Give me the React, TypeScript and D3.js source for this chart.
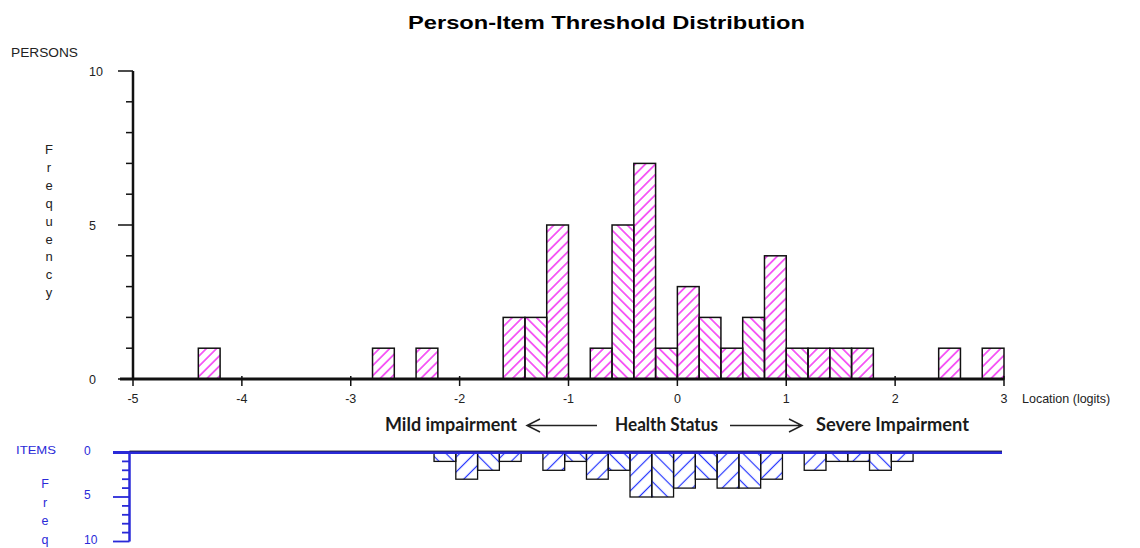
import { useEffect, useRef } from "react";
import * as d3 from "d3";

// Person locations (lower edge of each 0.2-logit bin) and counts
const personLogit = [-4.4, -2.8, -2.4, -1.6, -1.4, -1.2, -0.8, -0.6, -0.4, -0.2, 0, 0.2, 0.4, 0.6, 0.8, 1.0, 1.2, 1.4, 1.6, 2.4, 2.8];
const personCount = [1, 1, 1, 2, 2, 5, 1, 5, 7, 1, 3, 2, 1, 2, 4, 1, 1, 1, 1, 1, 1];

// Item thresholds (lower edge of each bin) and counts
const itemLogit = [-2.235, -2.035, -1.835, -1.635, -1.235, -1.035, -0.835, -0.635, -0.435, -0.235, -0.035, 0.165, 0.365, 0.565, 0.765, 1.165, 1.365, 1.565, 1.765, 1.965];
const itemCount = [1, 3, 2, 1, 2, 1, 3, 2, 5, 5, 4, 3, 4, 4, 3, 2, 1, 1, 2, 1];

const xTicks = [-5, -4, -3, -2, -1, 0, 1, 2, 3];
const personTickLabels = [0, 5, 10];
const itemTickLabels = [0, 5, 10];
const binWidth = 0.2;

const BLUE = "#2a2ad8";
const SANS = "'Liberation Sans', Arial, sans-serif";

export default function App() {
    const svgRef = useRef<SVGSVGElement>(null);

    useEffect(() => {
        if (!svgRef.current) return;
        const svg = d3.select(svgRef.current);
        svg.selectAll("*").remove();

        const x = d3.scaleLinear().domain([-5, 3]).range([133, 1004]);
        const yP = d3.scaleLinear().domain([0, 10]).range([379, 71]);
        const yI = d3.scaleLinear().domain([0, 10]).range([452.5, 541.5]);

        // Hatch patterns: rotated tiles with one line each
        const defs = svg.append("defs");
        const hatch = (id: string, color: string, s: number, angle: number, w: number) => {
            const p = defs.append("pattern")
                .attr("id", id)
                .attr("patternUnits", "userSpaceOnUse")
                .attr("width", s).attr("height", s)
                .attr("patternTransform", `rotate(${angle})`);
            p.append("line")
                .attr("x1", s / 2).attr("x2", s / 2).attr("y1", 0).attr("y2", s)
                .attr("stroke", color).attr("stroke-width", w);
        };
        hatch("pFwd", "#f000f0", 7.2, 45, 1.2);
        hatch("pBack", "#f000f0", 7.2, -45, 1.2);
        hatch("iFwd", "#2233ff", 10.5, 45, 1.2);
        hatch("iBack", "#2233ff", 10.5, -45, 1.2);

        // Title
        svg.append("text")
            .attr("x", 408).attr("y", 29)
            .attr("font-family", SANS).attr("font-weight", "bold").attr("font-size", 19)
            .attr("textLength", 397).attr("lengthAdjust", "spacingAndGlyphs")
            .text("Person-Item Threshold Distribution");

        // ---- Persons histogram ----
        const persons = personLogit.map((v, i) => ({ v, n: personCount[i] }));
        svg.append("g").selectAll("rect")
            .data(persons)
            .join("rect")
            .attr("x", d => x(d.v))
            .attr("y", d => yP(d.n))
            .attr("width", d => x(d.v + binWidth) - x(d.v))
            .attr("height", d => yP(0) - yP(d.n))
            .attr("fill", d => Math.round((d.v + 5) / binWidth) % 2 === 1 ? "url(#pFwd)" : "url(#pBack)")
            .attr("stroke", "#111")
            .attr("stroke-width", 1.5);

        const axisP = svg.append("g").attr("stroke", "#111");
        axisP.append("line").attr("x1", 133).attr("x2", 133).attr("y1", yP(10)).attr("y2", yP(0)).attr("stroke-width", 2.5);
        d3.range(0, 11).forEach(t => {
            axisP.append("line")
                .attr("x1", t % 5 === 0 ? 118 : 126).attr("x2", 133)
                .attr("y1", yP(t)).attr("y2", yP(t))
                .attr("stroke-width", 1.5);
        });
        axisP.append("line").attr("x1", 120).attr("x2", x(3)).attr("y1", yP(0)).attr("y2", yP(0)).attr("stroke-width", 3);
        xTicks.forEach(t => {
            axisP.append("line").attr("x1", x(t)).attr("x2", x(t)).attr("y1", yP(0) - 3).attr("y2", yP(0) + 7).attr("stroke-width", 1.5);
        });

        svg.append("g").selectAll("text")
            .data(xTicks)
            .join("text")
            .attr("x", d => x(d)).attr("y", 403)
            .attr("text-anchor", "middle")
            .attr("font-family", SANS).attr("font-size", 12.5).attr("fill", "#222")
            .text(d => d);
        svg.append("text").attr("x", 1022).attr("y", 403)
            .attr("font-family", SANS).attr("font-size", 12.5).attr("fill", "#222")
            .text("Location (logits)");

        svg.append("g").selectAll("text")
            .data(personTickLabels)
            .join("text")
            .attr("x", 89).attr("y", d => yP(d) + 4.5)
            .attr("font-family", SANS).attr("font-size", 12.5).attr("fill", "#222")
            .text(d => d);
        svg.append("text").attr("x", 11).attr("y", 57)
            .attr("font-family", SANS).attr("font-size", 12.5).attr("fill", "#222")
            .attr("textLength", 67).attr("lengthAdjust", "spacingAndGlyphs")
            .text("PERSONS");
        "Frequency".split("").forEach((c, i) => {
            svg.append("text").attr("x", 49).attr("y", 154 + i * 17.9)
                .attr("text-anchor", "middle")
                .attr("font-family", SANS).attr("font-size", 13).attr("fill", "#222")
                .text(c);
        });

        // ---- Direction labels ----
        const lab = (t: string, x0: number, len: number) =>
            svg.append("text").attr("x", x0).attr("y", 431)
                .attr("font-family", "Lato, 'Open Sans', sans-serif").attr("font-weight", 700)
                .attr("font-size", 18).attr("fill", "#1a1a1a")
                .attr("textLength", len).attr("lengthAdjust", "spacingAndGlyphs")
                .text(t);
        lab("Mild impairment", 385, 132);
        lab("Health Status", 615, 103);
        lab("Severe Impairment", 816, 153);
        const arrows = svg.append("g").attr("stroke", "#222").attr("stroke-width", 1.5).attr("fill", "none");
        arrows.append("path").attr("d", "M527,425.5 L597,425.5 M540,419 L527,425.5 L540,432");
        arrows.append("path").attr("d", "M730,425.5 L802,425.5 M789,419 L802,425.5 L789,432");

        // ---- Items histogram ----
        const items = itemLogit.map((v, i) => ({ v, n: itemCount[i] }));
        svg.append("g").selectAll("rect")
            .data(items)
            .join("rect")
            .attr("x", d => x(d.v))
            .attr("y", yI(0))
            .attr("width", d => x(d.v + binWidth) - x(d.v))
            .attr("height", d => yI(d.n) - yI(0))
            .attr("fill", d => Math.round((d.v - itemLogit[0]) / binWidth) % 2 === 1 ? "url(#iFwd)" : "url(#iBack)")
            .attr("stroke", "#111")
            .attr("stroke-width", 1.3);

        const axisI = svg.append("g").attr("stroke", BLUE);
        axisI.append("line").attr("x1", 113).attr("x2", 1002).attr("y1", yI(0)).attr("y2", yI(0)).attr("stroke-width", 3);
        axisI.append("line").attr("x1", 129.5).attr("x2", 1002).attr("y1", yI(0) - 1.5).attr("y2", yI(0) - 1.5).attr("stroke", "#111").attr("stroke-width", 0.8);
        axisI.append("line").attr("x1", 129.5).attr("x2", 129.5).attr("y1", yI(0)).attr("y2", yI(10)).attr("stroke-width", 2.5);
        d3.range(1, 11).forEach(t => {
            axisI.append("line")
                .attr("x1", t % 5 === 0 ? 113 : 122).attr("x2", 129.5)
                .attr("y1", yI(t)).attr("y2", yI(t))
                .attr("stroke-width", 1.8);
        });
        svg.append("g").selectAll("text")
            .data(itemTickLabels)
            .join("text")
            .attr("x", 84).attr("y", d => yI(d) + 2)
            .attr("font-family", SANS).attr("font-size", 12).attr("fill", BLUE)
            .text(d => d);
        svg.append("text").attr("x", 16).attr("y", 454)
            .attr("font-family", SANS).attr("font-size", 11.5).attr("fill", BLUE)
            .attr("textLength", 40).attr("lengthAdjust", "spacingAndGlyphs")
            .text("ITEMS");
        "Freq".split("").forEach((c, i) => {
            svg.append("text").attr("x", 45).attr("y", 488 + i * 18.5)
                .attr("text-anchor", "middle")
                .attr("font-family", SANS).attr("font-size", 12.5).attr("fill", BLUE)
                .text(c);
        });
    }, []);

    return (
        <svg
            ref={svgRef}
            width={1140}
            height={548}
            style={{ position: "absolute", left: 0, top: 0, background: "#fff", display: "block" }}
        />
    );
}
